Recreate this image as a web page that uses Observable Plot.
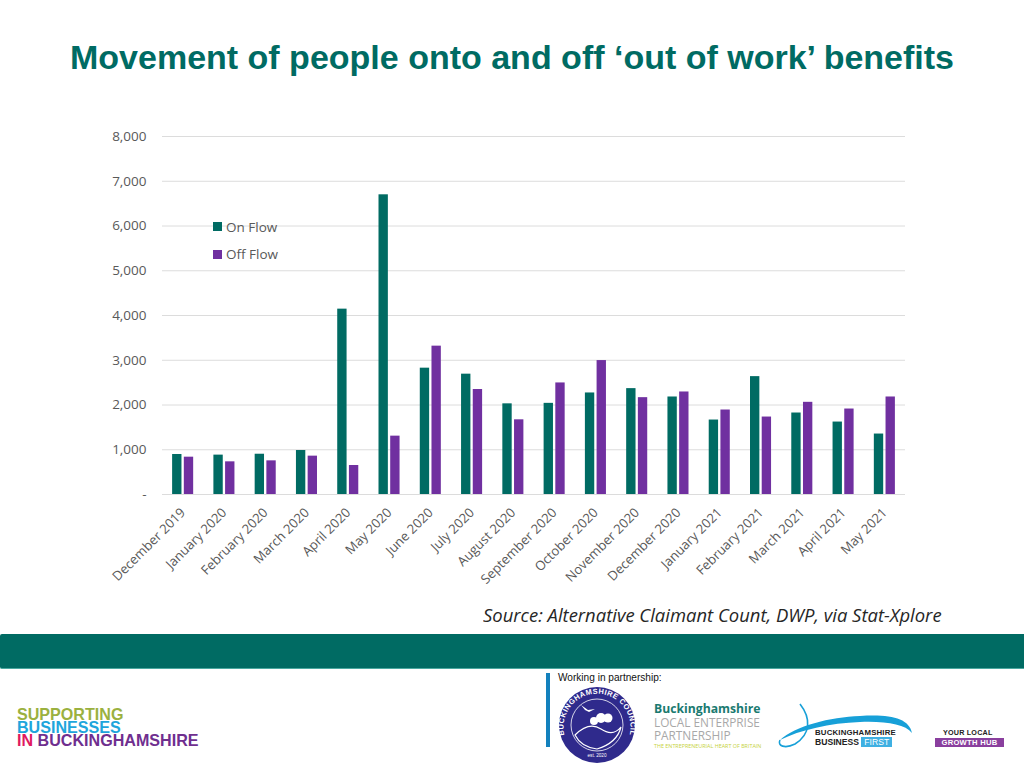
<!DOCTYPE html>
<html>
<head>
<meta charset="utf-8">
<title>Movement of people onto and off 'out of work' benefits</title>
<script src="https://cdn.jsdelivr.net/npm/d3@7"></script>
<script src="https://cdn.jsdelivr.net/npm/@observablehq/plot@0.6"></script>
<style>
html,body{margin:0;padding:0;background:#fff;overflow:hidden}
#page{position:relative;width:1024px;height:768px;overflow:hidden}
#page>*{position:absolute}
#chart{left:0;top:0}
.t{white-space:nowrap;line-height:1}
.sw{width:9px;height:9px}
</style>
</head>
<body>
<div id="page">
  <div id="chart"></div>
  <div class="t" style="left:70px;top:38px;font:bold 34px 'Liberation Sans';color:#006b63">Movement of people onto and off ‘out of work’ benefits</div>
  <div class="sw" style="left:213px;top:222px;background:#006b63"></div>
  <div class="t" style="left:226px;top:218px;font:13.5px 'Open Sans';color:#595959">On Flow</div>
  <div class="sw" style="left:213px;top:250px;background:#7030a0"></div>
  <div class="t" style="left:226px;top:245px;font:13.5px 'Open Sans';color:#595959">Off Flow</div>
  <div class="t" style="left:483px;top:603px;font:italic 17.5px 'Open Sans';color:#262626;transform-origin:0 50%;transform:scaleX(1.054)">Source: Alternative Claimant Count, DWP, via Stat-Xplore</div>
  <div style="left:0;top:634px;width:1024px;height:35px;background:#006b63;border-bottom:1px solid #4aa8a0;box-sizing:border-box;border-radius:2px 0 0 2px"></div>

  <div class="t" style="left:17px;top:708px;font:bold 16.1px/13px 'Liberation Sans';white-space:pre"><span style="color:#9bb13f">SUPPORTING</span>
<span style="color:#1ea5dc">BUSINESSES</span>
<span style="color:#e0195f">IN</span> <span style="color:#6f2f8f">BUCKINGHAMSHIRE</span></div>

  <div style="left:546px;top:673px;width:4px;height:74px;background:#1381bd"></div>
  <div class="t" style="left:558px;top:672px;font:10.1px 'Liberation Sans';color:#111">Working in partnership:</div>

  <svg style="left:555px;top:685px" width="84" height="84" viewBox="0 0 84 84">
    <circle cx="42" cy="40" r="38" fill="#2f2a8c"/>
    <circle cx="42" cy="40" r="26" fill="none" stroke="#fff" stroke-width=".8"/>
    <defs><path id="ring" d="M9 48 A33.5 33.5 0 1 1 75 48"/></defs>
    <text font-family="Liberation Sans" font-weight="bold" font-size="7.4" fill="#fff" letter-spacing=".5"><textPath href="#ring" startOffset="50%" text-anchor="middle">BUCKINGHAMSHIRE COUNCIL</textPath></text>
    <text x="42" y="72" text-anchor="middle" font-family="Liberation Sans" font-size="4.6" fill="#fff">est. 2020</text>
    <path d="M20 50 Q34 36 46 44 T66 42 Q62 58 42 64 Q26 62 20 50Z" fill="none" stroke="#fff" stroke-width="1.2"/>
    <circle cx="39" cy="36" r="4" fill="#fff"/><circle cx="46" cy="33" r="5" fill="#fff"/><circle cx="53" cy="33" r="4.5" fill="#fff"/>
    <path d="M26 20 L33 25 L40 24 L34 27 L30 25Z" fill="#fff"/>
  </svg>

  <div class="t" style="left:654px;top:700px;font:bold 12.2px 'Open Sans';color:#1a7a70">Buckinghamshire</div>
  <div class="t" style="left:654px;top:714px;font:11.8px 'Open Sans';color:#a8a8a8">LOCAL ENTERPRISE</div>
  <div class="t" style="left:654px;top:727px;font:11.8px 'Open Sans';color:#a8a8a8">PARTNERSHIP</div>
  <div class="t" style="left:654px;top:742px;font:5.4px 'Open Sans';color:#c5d23c">THE ENTREPRENEURIAL HEART OF BRITAIN</div>

  <svg style="left:775px;top:700px" width="140" height="50" viewBox="0 0 140 50">
    <path d="M25 4 C36 18 36 34 20 44 C10 49 2 46 5 40" fill="none" stroke="#17a0d8" stroke-width="1.6"/>
    <path d="M5 40 C20 26 55 17 85 16 C115 14 134 18 137 33 C130 24 110 21 85 22 C55 23 25 30 5 40Z" fill="#17a0d8"/>
  </svg>
  <div class="t" style="left:815px;top:728px;font:bold 7.8px 'Liberation Sans';color:#222;letter-spacing:.2px">BUCKINGHAMSHIRE</div>
  <div class="t" style="left:815px;top:737px;font:bold 8.6px 'Liberation Sans';color:#222">BUSINESS <span style="background:#3fb0e2;color:#fff;padding:0 3px;font-weight:normal">FIRST</span></div>

  <div class="t" style="left:943px;top:728px;font:bold 7.2px 'Liberation Sans';color:#222;letter-spacing:.2px">YOUR LOCAL</div>
  <div class="t" style="left:935px;top:738px;width:69px;height:9px;background:#8a3f9e;color:#fff;text-align:center;font:bold 7.6px/9px 'Liberation Sans';letter-spacing:.3px">GROWTH HUB</div>
</div>
<script>
const months = ["December 2019","January 2020","February 2020","March 2020","April 2020","May 2020","June 2020","July 2020","August 2020","September 2020","October 2020","November 2020","December 2020","January 2021","February 2021","March 2021","April 2021","May 2021"];
const onFlow = [894,880,900,983,4142,6697,2823,2689,2026,2037,2269,2366,2179,1664,2634,1821,1619,1351];
const offFlow = [834,730,752,857,648,1304,3315,2346,1669,2493,2993,2164,2291,1888,1731,2060,1910,2179];
const yTicks = [0,1000,2000,3000,4000,5000,6000,7000,8000];
const chart = Plot.plot({
  width:1024,height:768,
  marginLeft:162,marginRight:119,marginTop:136,marginBottom:274,
  style:{fontFamily:"'Open Sans'",background:"transparent",color:"#595959"},
  x:{domain:months,paddingInner:0.49,paddingOuter:0.245,label:null,round:false},
  y:{domain:[0,8000],label:null},
  marks:[
    Plot.ruleY(yTicks,{stroke:"#dcdcdc",strokeWidth:1}),
    Plot.barY(months,{x:d=>d,y:(d,i)=>onFlow[i],fill:"#006b63",insetRight:11.7}),
    Plot.barY(months,{x:d=>d,y:(d,i)=>offFlow[i],fill:"#7030a0",insetLeft:11.7}),
    Plot.axisY(yTicks,{tickSize:0,tickPadding:16,fontSize:13.5,tickFormat:d=>d===0?"-":d3.format(",")(d),label:null,fill:"#595959"}),
    Plot.axisX({anchor:"bottom",tickSize:0,tickPadding:16,tickRotate:-45,fontSize:13.1,label:null,fill:"#595959"})
  ]
});
document.getElementById("chart").appendChild(chart);
</script>
</body>
</html>
